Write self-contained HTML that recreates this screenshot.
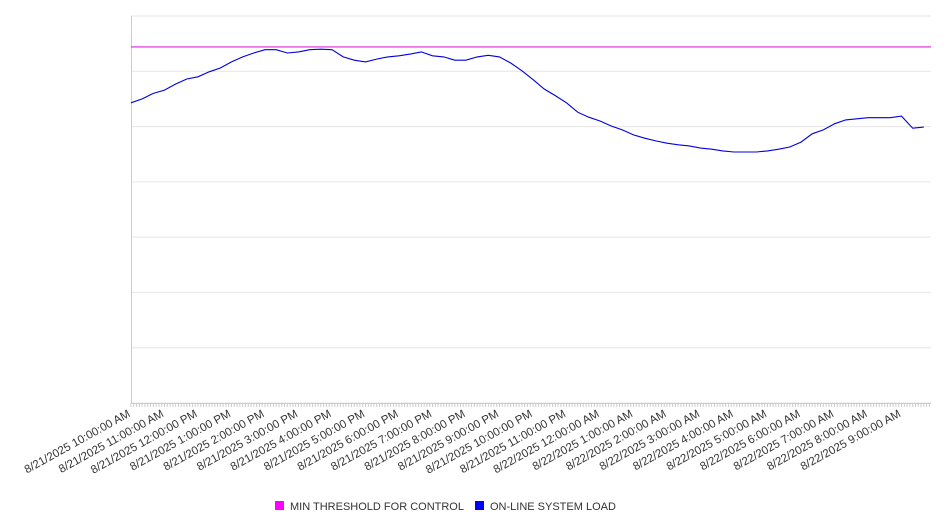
<!DOCTYPE html>
<html><head><meta charset="utf-8"><style>
body{margin:0;background:#fff;font-family:"Liberation Sans","DejaVu Sans",sans-serif}
</style></head><body>
<svg id="chart" width="946" height="526" xmlns="http://www.w3.org/2000/svg"></svg>
<script>
const tickLabels=["8/21/2025 10:00:00 AM","8/21/2025 11:00:00 AM","8/21/2025 12:00:00 PM","8/21/2025 1:00:00 PM","8/21/2025 2:00:00 PM","8/21/2025 3:00:00 PM","8/21/2025 4:00:00 PM","8/21/2025 5:00:00 PM","8/21/2025 6:00:00 PM","8/21/2025 7:00:00 PM","8/21/2025 8:00:00 PM","8/21/2025 9:00:00 PM","8/21/2025 10:00:00 PM","8/21/2025 11:00:00 PM","8/22/2025 12:00:00 AM","8/22/2025 1:00:00 AM","8/22/2025 2:00:00 AM","8/22/2025 3:00:00 AM","8/22/2025 4:00:00 AM","8/22/2025 5:00:00 AM","8/22/2025 6:00:00 AM","8/22/2025 7:00:00 AM","8/22/2025 8:00:00 AM","8/22/2025 9:00:00 AM"];
const loadValues=[54.3,55.0,56.0,56.6,57.7,58.6,59.0,59.9,60.6,61.7,62.6,63.3,63.9,63.9,63.3,63.5,63.9,64.0,63.9,62.6,62.0,61.7,62.2,62.6,62.8,63.1,63.5,62.8,62.6,62.0,62.0,62.6,62.9,62.6,61.5,60.1,58.5,56.8,55.6,54.3,52.6,51.7,51.0,50.1,49.4,48.5,47.9,47.4,47.0,46.7,46.5,46.1,45.9,45.6,45.4,45.4,45.4,45.6,45.9,46.3,47.2,48.7,49.4,50.5,51.2,51.4,51.6,51.6,51.6,51.9,49.7,49.9];
const thresholdValue=64.4;
const sampleHours=1/3;
const yTicks=[0,10,20,30,40,50,60,70];

const svg=document.getElementById('chart');
const NS='http://www.w3.org/2000/svg';
const L=131,R=931,T=16,B=403,hourPx=33.5;
const yMax=70;
const xs=h=>L+h*hourPx;
const ys=v=>B-(v/yMax)*(B-T);
function mk(tag,attrs,parent){const e=document.createElementNS(NS,tag);for(const k in attrs)e.setAttribute(k,attrs[k]);(parent||svg).appendChild(e);return e;}

const grid=mk('g',{});


yTicks.forEach(t=>{const l=mk('line',{x1:L,x2:R,y1:ys(t),y2:ys(t),stroke:'#e6e6e6','stroke-width':1},grid);

});

const yAxis=mk('line',{x1:L+0.5,x2:L+0.5,y1:T,y2:B,stroke:'#ccc'});


const xAxis=mk('line',{x1:L,x2:R,y1:B+0.5,y2:B+0.5,stroke:'#ccc'});



const minor=mk('g',{});


for(let m=0;xs(m/12)<=R;m++){mk('line',{x1:xs(m/12),x2:xs(m/12),y1:B,y2:B+4,stroke:'#ccc'},minor);}

const labels=mk('g',{});


tickLabels.forEach((s,i)=>{const x=xs(i),y=B+13;
const t=mk('text',{x:x,y:y,'text-anchor':'end','font-size':'11.5',fill:'#333',transform:`rotate(-29 ${x} ${y})`},labels);


t.textContent=s;});

const th=mk('line',{x1:L,x2:R,y1:ys(thresholdValue),y2:ys(thresholdValue),stroke:'#e020e0','stroke-width':1.2});



const pts=loadValues.map((v,i)=>xs(i*sampleHours).toFixed(1)+','+ys(v).toFixed(1)).join(' ');
const pl=mk('polyline',{points:pts,fill:'none',stroke:'#0000e0','stroke-width':1.1});



const lg=mk('g',{});


const items=[["MIN THRESHOLD FOR CONTROL","#ff00ff",275],["ON-LINE SYSTEM LOAD","#0000ff",475]];
items.forEach(([n,c,x])=>{const g=mk('g',{},lg);


mk('rect',{x:x,y:501,width:9,height:9,fill:c},g);
const t=mk('text',{x:x+15,y:510,'font-size':'11',fill:'#333'},g);t.textContent=n;});
</script>
</body></html>
